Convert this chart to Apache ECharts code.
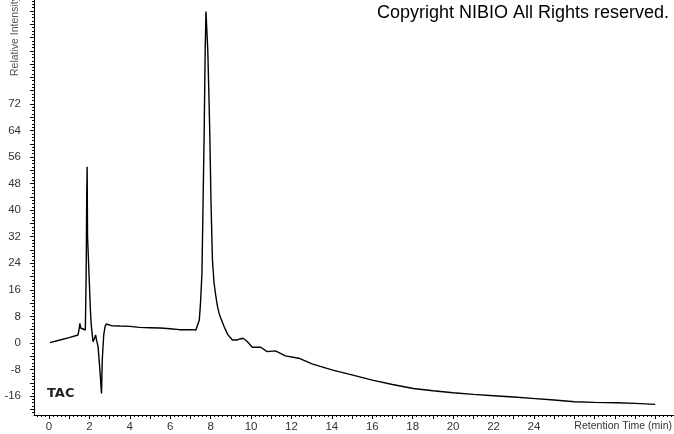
<!DOCTYPE html>
<html>
<head>
<meta charset="utf-8">
<script src="https://cdn.jsdelivr.net/npm/echarts@6/dist/echarts.min.js"></script>
<style>html,body{margin:0;padding:0;background:#fff;}#c{width:674px;height:434px;}</style>
</head>
<body>
<div id="c"></div>
<script>
// Retention time (min)
var times = [0.05,0.5,1.0,1.44,1.5,1.53,1.57,1.6,1.8,1.84,1.87,1.89,1.91,1.94,2.0,2.05,2.1,2.18,2.26,2.31,2.35,2.43,2.52,2.6,2.64,2.71,2.78,2.84,3.09,3.5,4.0,4.48,5.0,5.5,6.0,6.45,7.0,7.27,7.35,7.44,7.5,7.57,7.62,7.68,7.73,7.77,7.8,7.82,7.86,7.91,7.96,8.02,8.09,8.17,8.26,8.34,8.42,8.5,8.67,8.85,9.08,9.33,9.45,9.6,9.8,10.06,10.48,10.8,11.21,11.7,12.36,13.02,14.0,14.99,16.0,17.0,18.03,19.0,20.0,21.0,22.0,23.0,23.9,25.0,26.0,27.0,28.1,29.0,30.0];
// Relative intensity
var intensities = [0.1,0.8,1.6,2.4,4.5,5.9,4.5,3.9,3.9,20,45,53.1,32,31.6,18,10,4.9,0.4,1.5,2.4,1.0,-1.1,-8,-15.2,-5,2.4,5.0,5.7,5.2,5.1,5.0,4.7,4.6,4.5,4.3,4.0,4.0,3.9,4.5,6.9,12,21,40,63,88,99.8,100,99.4,88,76,63,42,25,18,14,11,8.9,7.5,4.9,2.5,0.9,0.9,1.2,1.4,0.5,-1.3,-1.3,-2.6,-2.4,-3.9,-4.6,-6.3,-8.1,-9.6,-11.2,-12.5,-13.7,-14.4,-15.0,-15.5,-15.9,-16.3,-16.7,-17.2,-17.7,-17.9,-18.0,-18.2,-18.5];
var xLabels = [0,2,4,6,8,10,12,14,16,18,20,22,24];
var yLabels = [-16,-8,0,8,16,24,32,40,48,56,64,72];

function range(a, b, s) { var r = []; for (var v = a; v <= b + 1e-9; v += s) r.push(Math.round(v * 100) / 100); return r; }

var data = times.map(function (t, i) { return [t, intensities[i]]; });
var xMin = -0.74, xMax = 30.93, yMin = -21.7, yMax = 103.3;
var font = 'Liberation Sans, Arial, sans-serif';

var chart = echarts.init(document.getElementById('c'), null, { renderer: 'canvas' });
chart.setOption({
  animation: false,
  backgroundColor: '#ffffff',
  grid: { left: 34, right: 0, top: 0, bottom: 19, containLabel: false },
  xAxis: [{
    type: 'value', position: 'bottom', min: xMin, max: xMax,
    axisLine: { show: true, onZero: false, lineStyle: { color: '#000', width: 1 } },
    axisTick: { show: true, length: 4, customValues: range(0, 30, 1), lineStyle: { color: '#000' } },
    axisLabel: { show: true, customValues: xLabels, margin: 6, color: '#333', fontSize: 11.5, fontFamily: font },
    splitLine: { show: false }
  }, {
    type: 'value', position: 'bottom', min: xMin, max: xMax,
    axisLine: { show: false, onZero: false },
    axisTick: { show: true, length: 2, customValues: range(-0.6, 30.8, 0.2), lineStyle: { color: '#000' } },
    axisLabel: { show: false },
    splitLine: { show: false }
  }],
  yAxis: [{
    type: 'value', position: 'left', min: yMin, max: yMax,
    axisLine: { show: true, onZero: false, lineStyle: { color: '#000', width: 1 } },
    axisTick: { show: true, length: 4, customValues: range(-20, 100, 4), lineStyle: { color: '#000' } },
    axisLabel: { show: true, customValues: yLabels, margin: 13, color: '#333', fontSize: 11.5, fontFamily: font },
    splitLine: { show: false }
  }, {
    type: 'value', position: 'left', min: yMin, max: yMax,
    axisLine: { show: false, onZero: false },
    axisTick: { show: true, length: 2, customValues: range(-21, 103, 1), lineStyle: { color: '#000' } },
    axisLabel: { show: false },
    splitLine: { show: false }
  }],
  series: [{
    type: 'line', xAxisIndex: 0, yAxisIndex: 0, data: data,
    showSymbol: false, symbol: 'none', smooth: false,
    lineStyle: { color: '#000', width: 1.4 }
  }],
  graphic: [
    { type: 'text', left: 377, top: 4, style: { text: 'Copyright NIBIO All Rights reserved.', fill: '#000', font: '18px ' + font } },
    { type: 'text', x: 15, y: 76, rotation: Math.PI / 2, style: { text: 'Relative Intensity', fill: '#555', font: '10.5px ' + font, textAlign: 'left', textVerticalAlign: 'middle' } },
    { type: 'text', left: 47, top: 387, style: { text: 'TAC', fill: '#222', font: 'bold 13px DejaVu Sans, sans-serif' } },
    { type: 'text', right: 2, top: 421, style: { text: 'Retention Time (min)', fill: '#333', font: '10.5px ' + font } }
  ]
});
</script>
</body>
</html>
